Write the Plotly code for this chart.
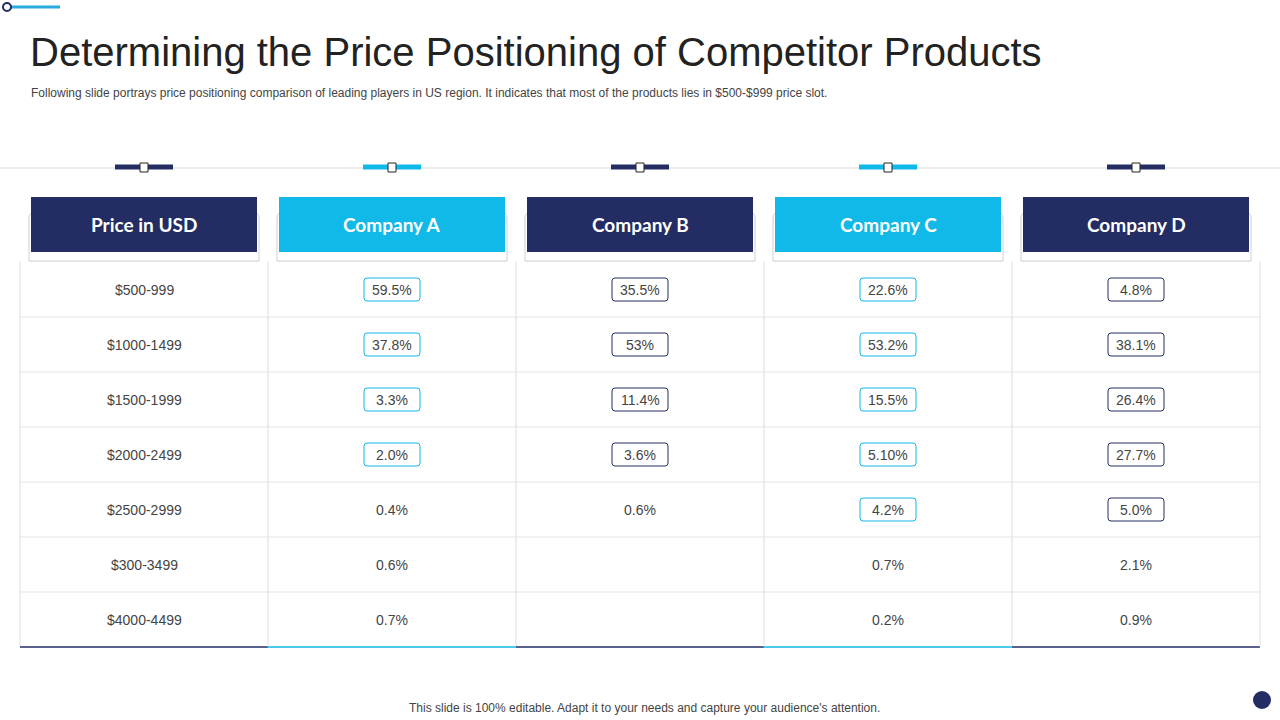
import plotly.graph_objects as go

headers = ["Price in USD", "Company A", "Company B", "Company C", "Company D"]
price_ranges = ["$500-999", "$1000-1499", "$1500-1999", "$2000-2499", "$2500-2999", "$300-3499", "$4000-4499"]
company_a = ["59.5%", "37.8%", "3.3%", "2.0%", "0.4%", "0.6%", "0.7%"]
company_b = ["35.5%", "53%", "11.4%", "3.6%", "0.6%", "", ""]
company_c = ["22.6%", "53.2%", "15.5%", "5.10%", "4.2%", "0.7%", "0.2%"]
company_d = ["4.8%", "38.1%", "26.4%", "27.7%", "5.0%", "2.1%", "0.9%"]
boxed_rows = [0, 4, 4, 5, 5]  # number of boxed rows per column

NAVY = "#232C63"
CYAN = "#10B9E8"
col_colors = [NAVY, CYAN, NAVY, CYAN, NAVY]
columns = [price_ranges, company_a, company_b, company_c, company_d]

X0, CW = 20, 248
Y0, RH = 262, 55
shapes, ann = [], []

def S(**k):
    k.setdefault("xref", "x"); k.setdefault("yref", "y")
    shapes.append(k)

def A(x, y, t, size, color, family="Liberation Sans", **k):
    ann.append(dict(x=x, y=y, xref="x", yref="y", text=t, showarrow=False,
                    font=dict(size=size, color=color, family=family), **k))

# top decoration
S(type="line", x0=8, x1=60, y0=7, y1=7, line=dict(color="#29ABE2", width=3))
S(type="circle", x0=3, x1=11, y0=3, y1=11, fillcolor="white", line=dict(color=NAVY, width=2))
S(type="line", x0=0, x1=1280, y0=168, y1=168, line=dict(color="#D9D9D9", width=1))

A(28, 52, "Determining the Price Positioning of Competitor Products", 40, "#222222",
  family="Liberation Sans", xanchor="left")
A(29, 93, "Following slide portrays price positioning comparison of leading players in US region. It indicates that most of the products lies in $500-$999 price slot.",
  12, "#444444", xanchor="left")

nrows = len(price_ranges)
bottom = Y0 + RH * nrows
for j, h in enumerate(headers):
    cx = X0 + CW * j + CW / 2
    S(type="line", x0=cx - 29, x1=cx + 29, y0=167, y1=167, line=dict(color=col_colors[j], width=5))
    S(type="rect", x0=cx - 4, x1=cx + 4, y0=163, y1=172, fillcolor="white", line=dict(color="#222", width=1))
    S(type="path", path=f"M {cx-115},{212+6} Q {cx-115},212 {cx-109},212 L {cx+109},212 Q {cx+115},212 {cx+115},218 L {cx+115},261 L {cx-115},261 Z",
      line=dict(color="#CFCFCF", width=1), fillcolor="rgba(0,0,0,0)")
    S(type="rect", x0=cx - 113, x1=cx + 113, y0=197, y1=252, fillcolor=col_colors[j], line=dict(width=0))
    A(cx, 224.5, f"<b>{h}</b>", 19, "white", family="Lato")
    S(type="line", x0=X0 + CW * j, x1=X0 + CW * j, y0=Y0, y1=bottom, line=dict(color="#DDDDDD", width=1))
    for i, v in enumerate(columns[j]):
        cy = Y0 + RH * i + RH / 2
        if v:
            if i < boxed_rows[j]:
                S(type="path", path=f"M {cx-28},{cy-8.5} Q {cx-28},{cy-11.5} {cx-25},{cy-11.5} L {cx+25},{cy-11.5} Q {cx+28},{cy-11.5} {cx+28},{cy-8.5} L {cx+28},{cy+8.5} Q {cx+28},{cy+11.5} {cx+25},{cy+11.5} L {cx-25},{cy+11.5} Q {cx-28},{cy+11.5} {cx-28},{cy+8.5} Z",
                  fillcolor="white", line=dict(color=col_colors[j], width=1))
            A(cx, cy, v, 14, "#444444", family="Liberation Sans")
    S(type="line", x0=X0 + CW * j, x1=X0 + CW * (j + 1), y0=bottom, y1=bottom,
      line=dict(color=col_colors[j] if j in (1, 3) else NAVY, width=1.5))
S(type="line", x0=X0 + CW * 5, x1=X0 + CW * 5, y0=Y0, y1=bottom, line=dict(color="#DDDDDD", width=1))
for i in range(1, nrows):
    S(type="line", x0=X0, x1=X0 + CW * 5, y0=Y0 + RH * i, y1=Y0 + RH * i, line=dict(color="#E3E3E3", width=1))

A(644, 708, "This slide is 100% editable. Adapt it to your needs and capture your audience's attention.", 12, "#444444")
S(type="circle", x0=1253, x1=1271, y0=691, y1=709, fillcolor=NAVY, line=dict(width=0))

fig = go.Figure()
fig.update_layout(width=1280, height=720, margin=dict(l=0, r=0, t=0, b=0),
                  paper_bgcolor="white", plot_bgcolor="white", shapes=shapes, annotations=ann,
                  xaxis=dict(range=[0, 1280], visible=False, fixedrange=True),
                  yaxis=dict(range=[720, 0], visible=False, fixedrange=True), showlegend=False)
fig.write_html("out.html", config={"displayModeBar": False},
               post_script="document.body.style.margin='0';document.body.style.overflow='hidden';")
